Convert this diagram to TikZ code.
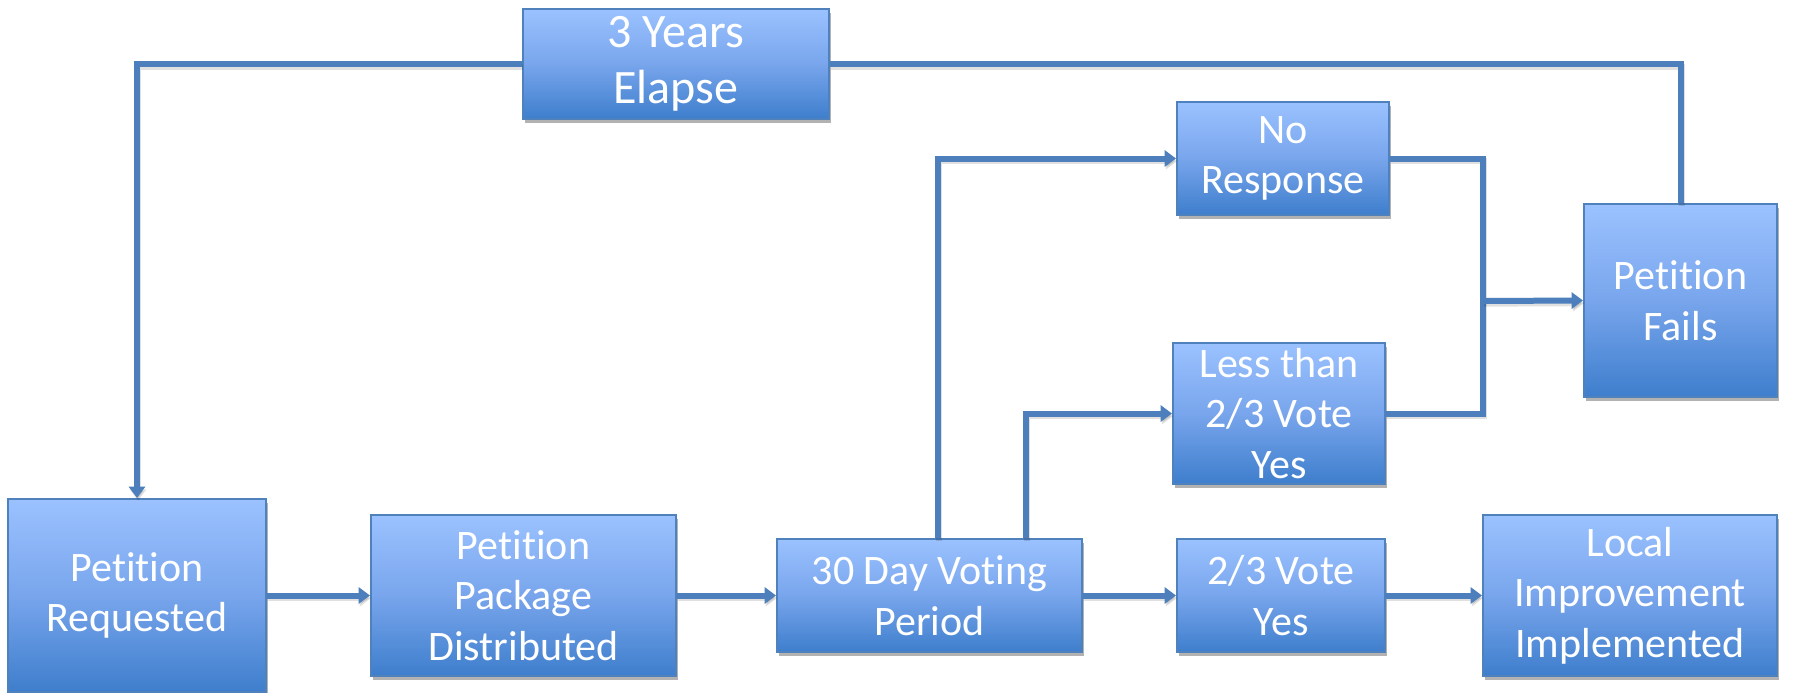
\documentclass[tikz,border=0pt]{standalone}
\usepackage{fontspec}
\setmainfont{Carlito}[Ligatures=NoCommon]
\usetikzlibrary{arrows.meta,shadows}
\definecolor{bord}{RGB}{79,129,189}
\definecolor{linec}{RGB}{76,127,188}
\definecolor{topc}{RGB}{155,194,255}
\definecolor{midc}{RGB}{120,165,236}
\definecolor{botc}{RGB}{62,126,204}
\tikzset{
  box/.style={draw=bord, line width=1.5pt, top color=topc, bottom color=botc, middle color=midc,
    text=white, align=center, inner sep=0pt,
    font=\fontsize{31.5pt}{38pt}\selectfont,
    drop shadow={shadow xshift=1.5pt, shadow yshift=-3pt, opacity=0.3, fill=black}},
  bigtext/.style={font=\fontsize{36pt}{42pt}\selectfont},
  conn/.style={draw=linec, line width=4.5pt,
    preaction={draw=black, opacity=0.12, line width=4.5pt, transform canvas={xshift=0.8pt,yshift=-2pt}}},
  arr/.style={conn, -{Triangle[length=8.5pt,width=12pt]}}
}
\begin{document}
\begin{tikzpicture}[x=0.75pt,y=-0.75pt]
\useasboundingbox (0,0) rectangle (1812,692);
\fill[white] (0,0) rectangle (1812,692);
% helper coordinates
\coordinate (v1) at (938,0);
\coordinate (v2) at (1026,0);
\coordinate (jn) at (1483,301);
% nodes
\node[box, bigtext, minimum width=229.5pt, minimum height=82.5pt] (ye) at (676,64) {3 Years\\Elapse};
\node[box, minimum width=193.5pt, minimum height=144.75pt] (pr) at (137,595.5) {Petition\\Requested};
\node[box, minimum width=228.75pt, minimum height=120.75pt] (pd) at (523.5,595.5) {Petition\\Package\\Distributed};
\node[box, minimum width=228.75pt, minimum height=84.75pt] (vp) at (929.5,595.5) {30 Day Voting\\Period};
\node[box, minimum width=159pt, minimum height=84.75pt] (nr) at (1283,158.5) {No\\Response};
\node[box, minimum width=159pt, minimum height=105.75pt] (lt) at (1279,413.5) {Less than\\2/3 Vote\\Yes};
\node[box, minimum width=156pt, minimum height=84.75pt] (yes) at (1281,595.5) {2/3 Vote\\Yes};
\node[box, minimum width=220.5pt, minimum height=120.75pt] (li) at (1630,595.5) {Local\\Improvement\\Implemented};
\node[box, minimum width=144.75pt, minimum height=144.75pt] (pf) at (1680.5,300.5) {Petition\\Fails};
% connectors
\draw[arr] (ye.west) -| (pr.north);
\draw[conn] (pf.north) |- (ye.east);
\draw[arr] (pr.east) -- (pd.west);
\draw[arr] (pd.east) -- (vp.west);
\draw[arr] (vp.east) -- (yes.west);
\draw[arr] (yes.east) -- (li.west);
\draw[arr] (vp.north -| v1) |- (nr.west);
\draw[arr] (vp.north -| v2) |- (lt.west);
\draw[conn] (nr.east) -- (nr.east -| jn) -- (lt.east -| jn) -- (lt.east);
\draw[arr] (jn) -- (pf.west);
\end{tikzpicture}
\end{document}
